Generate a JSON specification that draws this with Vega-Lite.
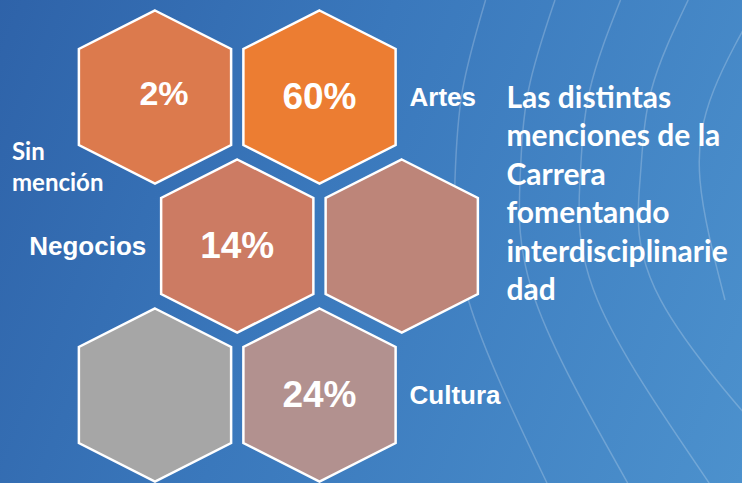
{
  "$schema": "https://vega.github.io/schema/vega-lite/v6.json",
  "width": 742,
  "height": 483,
  "padding": 0,
  "autosize": {"type": "fit", "contains": "padding"},
  "background": "#3A76B8",
  "config": {"view": {"stroke": null}, "axis": {"disable": true}},
  "datasets": {
    "hex": [
      {"mencion": "Sin mención", "pct": "2%", "col": 0, "row": 0},
      {"mencion": "Artes", "pct": "60%", "col": 2, "row": 0},
      {"mencion": "Negocios", "pct": "14%", "col": 1, "row": 1},
      {"mencion": "Otra", "pct": "", "col": 3, "row": 1},
      {"mencion": "Ninguna", "pct": "", "col": 0, "row": 2},
      {"mencion": "Cultura", "pct": "24%", "col": 2, "row": 2}
    ],
    "frame": [{"c0": -3, "c1": 9, "r0": -1.5, "r1": 3.5}],
    "arcos": [
      {"arc": "a", "ord": 0, "gx": 4.019, "gy": -0.651},
      {"arc": "a", "ord": 1, "gx": 3.739, "gy": -0.047},
      {"arc": "a", "ord": 2, "gx": 3.647, "gy": 0.557},
      {"arc": "a", "ord": 3, "gx": 3.810, "gy": 1.362},
      {"arc": "a", "ord": 4, "gx": 4.766, "gy": 2.591},
      {"arc": "b", "ord": 0, "gx": 4.863, "gy": -0.651},
      {"arc": "b", "ord": 1, "gx": 4.541, "gy": -0.047},
      {"arc": "b", "ord": 2, "gx": 4.438, "gy": 0.557},
      {"arc": "b", "ord": 3, "gx": 4.622, "gy": 1.362},
      {"arc": "b", "ord": 4, "gx": 5.747, "gy": 2.591},
      {"arc": "c", "ord": 0, "gx": 5.660, "gy": -0.651},
      {"arc": "c", "ord": 1, "gx": 5.286, "gy": -0.047},
      {"arc": "c", "ord": 2, "gx": 5.167, "gy": 0.557},
      {"arc": "c", "ord": 3, "gx": 5.380, "gy": 1.362},
      {"arc": "c", "ord": 4, "gx": 6.738, "gy": 2.591},
      {"arc": "d", "ord": 0, "gx": 6.483, "gy": -0.651},
      {"arc": "d", "ord": 1, "gx": 6.035, "gy": -0.047},
      {"arc": "d", "ord": 2, "gx": 5.897, "gy": 0.557},
      {"arc": "d", "ord": 3, "gx": 6.147, "gy": 1.362},
      {"arc": "d", "ord": 4, "gx": 7.910, "gy": 2.591},
      {"arc": "e", "ord": 0, "gx": 7.356, "gy": -0.651},
      {"arc": "e", "ord": 1, "gx": 6.794, "gy": -0.047},
      {"arc": "e", "ord": 2, "gx": 6.626, "gy": 0.557},
      {"arc": "e", "ord": 3, "gx": 6.930, "gy": 1.362}
    ]
  },
  "layer": [
    {
      "data": {"name": "frame"},
      "mark": {"type": "rect", "clip": true, "color": {"gradient": "linear", "x1": 0, "y1": 0, "x2": 1, "y2": 0.3, "stops": [{"offset": 0, "color": "#2A5BA2"}, {"offset": 0.5, "color": "#3A78BC"}, {"offset": 1, "color": "#4C91CD"}]}},
      "encoding": {
        "x": {"field": "c0", "type": "quantitative", "scale": {"domain": [-1.8845, 7.1368], "nice": false, "zero": false}},
        "x2": {"field": "c1"},
        "y": {"field": "r0", "type": "quantitative", "scale": {"domain": [-0.651, 2.5906], "nice": false, "zero": false, "reverse": true}},
        "y2": {"field": "r1"}
      }
    },
    {
      "data": {"name": "arcos"},
      "mark": {"type": "line", "clip": true, "color": "white", "opacity": 0.22, "strokeWidth": 1.5, "interpolate": "natural"},
      "encoding": {
        "x": {"field": "gx", "type": "quantitative"},
        "y": {"field": "gy", "type": "quantitative"},
        "detail": {"field": "arc"},
        "order": {"field": "ord"}
      }
    },
    {
      "data": {"name": "hex"},
      "mark": {"type": "point", "clip": true, "filled": true, "opacity": 1, "shape": "M0,-1L0.88,-0.555L0.88,0.555L0,1L-0.88,0.555L-0.88,-0.555Z", "size": 29929, "stroke": "white", "strokeWidth": 2.5},
      "encoding": {
        "x": {"field": "col", "type": "quantitative"},
        "y": {"field": "row", "type": "quantitative"},
        "color": {"field": "mencion", "type": "nominal", "legend": null, "scale": {"domain": ["Sin mención", "Artes", "Negocios", "Otra", "Ninguna", "Cultura"], "range": ["#DC7A4D", "#EC7D32", "#CC7B63", "#BD8579", "#A6A6A6", "#B2918F"]}}
      }
    },
    {
      "data": {"name": "hex"},
      "transform": [{"filter": "datum.mencion !== 'Sin mención'"}],
      "mark": {"type": "text", "font": "Liberation Sans", "fontWeight": "bold", "fontSize": 37, "color": "white", "align": "center", "baseline": "middle", "dy": 1},
      "encoding": {
        "x": {"field": "col", "type": "quantitative"},
        "y": {"field": "row", "type": "quantitative"},
        "text": {"field": "pct"}
      }
    },
    {
      "data": {"name": "hex"},
      "transform": [{"filter": "datum.mencion === 'Sin mención'"}],
      "mark": {"type": "text", "font": "Liberation Sans", "fontWeight": "bold", "fontSize": 34, "color": "white", "align": "center", "baseline": "middle", "dx": 9, "dy": -2},
      "encoding": {
        "x": {"field": "col", "type": "quantitative"},
        "y": {"field": "row", "type": "quantitative"},
        "text": {"field": "pct"}
      }
    },
    {
      "data": {"name": "hex"},
      "transform": [{"filter": "datum.mencion === 'Artes' || datum.mencion === 'Cultura'"}],
      "mark": {"type": "text", "font": "Liberation Sans", "fontWeight": "bold", "fontSize": 26, "color": "white", "align": "left", "baseline": "alphabetic", "dx": 90, "dy": 9},
      "encoding": {
        "x": {"field": "col", "type": "quantitative"},
        "y": {"field": "row", "type": "quantitative"},
        "text": {"field": "mencion"}
      }
    },
    {
      "data": {"name": "hex"},
      "transform": [{"filter": "datum.mencion === 'Negocios'"}],
      "mark": {"type": "text", "font": "Liberation Sans", "fontWeight": "bold", "fontSize": 26, "color": "white", "align": "right", "baseline": "alphabetic", "dx": -91, "dy": 9},
      "encoding": {
        "x": {"field": "col", "type": "quantitative"},
        "y": {"field": "row", "type": "quantitative"},
        "text": {"field": "mencion"}
      }
    },
    {
      "data": {"name": "hex"},
      "transform": [{"filter": "datum.mencion === 'Sin mención'"}],
      "mark": {"type": "text", "font": "Lato", "fontWeight": "bold", "fontSize": 24, "color": "white", "align": "left", "baseline": "alphabetic", "dx": -143, "dy": 63, "lineHeight": 31, "text": ["Sin", "mención"]},
      "encoding": {
        "x": {"field": "col", "type": "quantitative"},
        "y": {"field": "row", "type": "quantitative"}
      }
    },
    {
      "data": {"name": "hex"},
      "transform": [{"filter": "datum.mencion === 'Artes'"}],
      "mark": {"type": "text", "font": "Lato", "fontWeight": "bold", "fontSize": 30, "color": "white", "align": "left", "baseline": "alphabetic", "dx": 187, "dy": 11, "lineHeight": 38.4,
        "text": ["Las distintas", "menciones de la", "Carrera", "fomentando", "interdisciplinarie", "dad"]},
      "encoding": {
        "x": {"field": "col", "type": "quantitative"},
        "y": {"field": "row", "type": "quantitative"}
      }
    }
  ]
}
